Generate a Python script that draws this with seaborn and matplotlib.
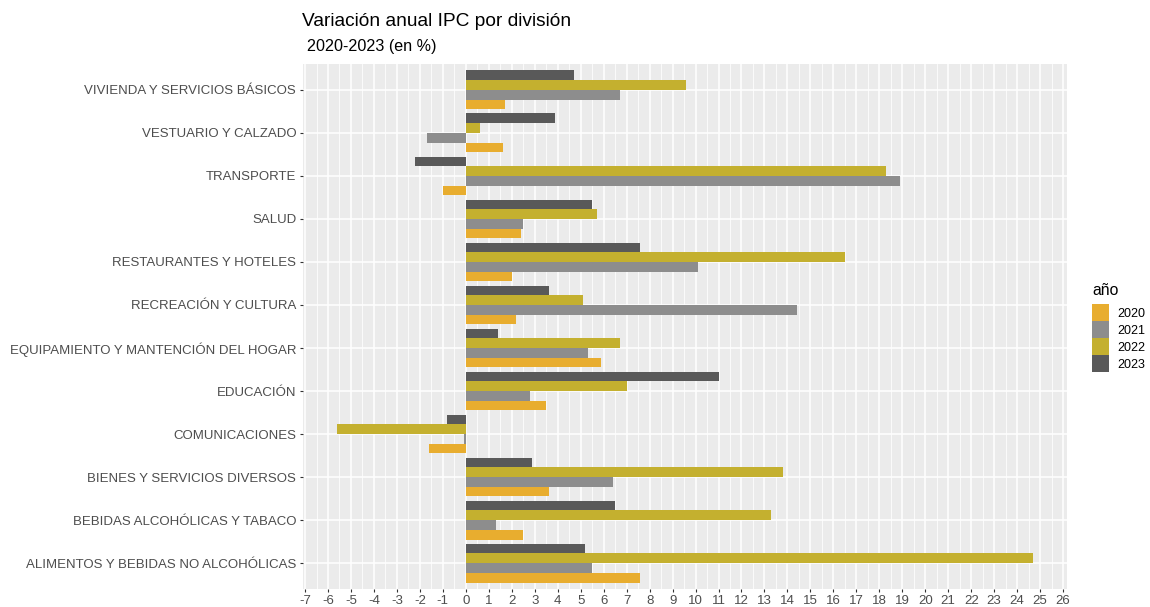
import matplotlib
matplotlib.use("Agg")
import matplotlib.pyplot as plt
import seaborn as sns
import pandas as pd
import numpy as np
from matplotlib.patches import Patch

# ---- data ----
categories = [
    "VIVIENDA Y SERVICIOS BÁSICOS",
    "VESTUARIO Y CALZADO",
    "TRANSPORTE",
    "SALUD",
    "RESTAURANTES Y HOTELES",
    "RECREACIÓN Y CULTURA",
    "EQUIPAMIENTO Y MANTENCIÓN DEL HOGAR",
    "EDUCACIÓN",
    "COMUNICACIONES",
    "BIENES Y SERVICIOS DIVERSOS",
    "BEBIDAS ALCOHÓLICAS Y TABACO",
    "ALIMENTOS Y BEBIDAS NO ALCOHÓLICAS",
]
years = ["2020", "2021", "2022", "2023"]
v2020 = [1.7, 1.6, -1.0, 2.4, 2.0, 2.2, 5.9, 3.5, -1.6, 3.6, 2.5, 7.6]
v2021 = [6.7, -1.7, 18.9, 2.5, 10.1, 14.4, 5.3, 2.8, -0.1, 6.4, 1.3, 5.5]
v2022 = [9.6, 0.6, 18.3, 5.7, 16.5, 5.1, 6.7, 7.0, -5.6, 13.8, 13.3, 24.7]
v2023 = [4.7, 3.9, -2.2, 5.5, 7.6, 3.6, 1.4, 11.0, -0.8, 2.9, 6.5, 5.2]

colors = {"2020": "#E8AD2F", "2021": "#8D8D8D", "2022": "#C4B02F", "2023": "#595959"}

df = pd.DataFrame({
    "division": categories * 4,
    "año": sum([[y] * len(categories) for y in years], []),
    "valor": v2020 + v2021 + v2022 + v2023,
})

# ---- figure ----
W, H, DPI = 1150, 607, 100
fig = plt.figure(figsize=(W / DPI, H / DPI), dpi=DPI)
plt.rcParams["font.family"] = ["Liberation Sans", "DejaVu Sans"]
plt.rcParams["axes.unicode_minus"] = False

left, right, top, bottom = 302.5, 1067, 64, 589
ax = fig.add_axes([left / W, 1 - bottom / H, (right - left) / W, (bottom - top) / H])
ax.set_facecolor("#EBEBEB")

sns.barplot(data=df, y="division", x="valor", hue="año", order=categories,
            hue_order=["2023", "2022", "2021", "2020"], palette=colors,
            orient="h", width=0.9, gap=0, ax=ax, legend=False,
            errorbar=None, saturation=1, zorder=3, linewidth=0)

ax.set_xticks(np.arange(-7, 27, 1))
ax.set_xticks(np.arange(-6.5, 26.5, 1), minor=True)
ax.set_yticks(range(len(categories)))
ax.set_yticklabels(categories)
ax.set_xlim(-7.11, 26.17)
ax.set_ylim(len(categories) - 0.4, -0.6)
ax.grid(which="major", axis="both", color="white", linewidth=1.1, zorder=0)
ax.grid(which="minor", axis="x", color="white", linewidth=0.55, zorder=0)
ax.set_axisbelow(True)
ax.tick_params(which="major", length=2.5, width=0.8, color="#333333",
               labelsize=9.5, labelcolor="#4D4D4D", pad=2)
ax.tick_params(which="minor", length=0)
for s in ax.spines.values():
    s.set_visible(False)
ax.set_xlabel("")
ax.set_ylabel("")

# titles
fig.text(left / W, 1 - 22 / H, "Variación anual IPC por división", fontsize=13.8,
         color="black", va="center", ha="left")
fig.text(307 / W, 1 - 47 / H, "2020-2023 (en %)", fontsize=11.6,
         color="black", va="center", ha="left")

# legend
handles = [Patch(facecolor=colors[y], edgecolor="none") for y in years]
leg = fig.legend(handles, years, title="año", loc="upper left",
                 bbox_to_anchor=(1092 / W, 1 - 283 / H), frameon=False,
                 fontsize=9, title_fontsize=11.3, handlelength=1.36,
                 handleheight=1.71, labelspacing=0.0, handletextpad=0.7,
                 borderpad=0, borderaxespad=0)
leg._legend_box.align = "left"
leg._legend_box.sep = 4.5

fig.savefig("out.png", dpi=DPI, facecolor="white")
